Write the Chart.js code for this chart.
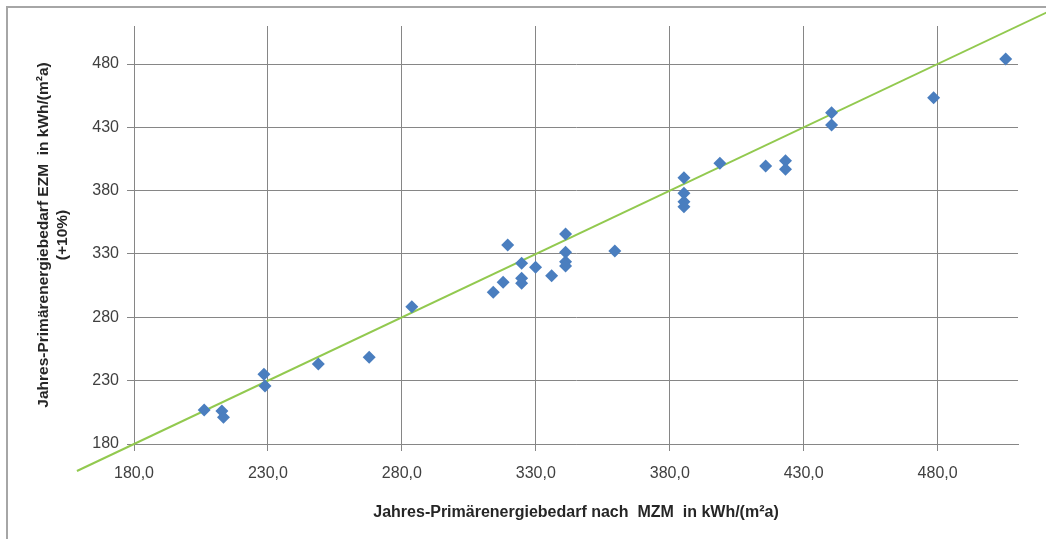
<!DOCTYPE html>
<html>
<head>
<meta charset="utf-8">
<script src="https://cdn.jsdelivr.net/npm/chart.js@4/dist/chart.umd.min.js"></script>
<style>
  html, body { margin: 0; padding: 0; background: #ffffff; }
  #wrap { width: 1046px; height: 539px; position: relative; }
</style>
</head>
<body>
<div id="wrap"><canvas id="c" width="1046" height="539"></canvas></div>
<script>
// Primary energy demand per building: MZM (x) against EZM +10% (y), kWh/(m²a)
const mzmValues = [206.2, 212.8, 213.4, 228.5, 228.9, 248.8, 267.8, 283.7, 314.1, 317.8,
                   319.5, 324.7, 324.7, 324.7, 329.9, 335.9, 341.1, 341.1, 341.1, 341.1,
                   359.5, 385.3, 385.3, 385.3, 385.3, 398.7, 415.8, 423.2, 423.2, 440.4,
                   440.4, 478.5, 505.4];
const ezmValues = [206.8, 206.1, 201.1, 235.0, 225.8, 243.2, 248.4, 288.4, 299.8, 307.7,
                   337.1, 322.7, 310.8, 306.9, 319.5, 312.9, 345.8, 331.3, 323.9, 320.5,
                   332.4, 390.2, 377.9, 371.3, 367.3, 401.6, 399.5, 403.7, 396.9, 441.5,
                   431.8, 453.4, 483.9];

// Reference line EZM = MZM, start and end values
const equalityLine = [158.7, 521];

// Axis ticks
const xTicks = [180, 230, 280, 330, 380, 430, 480];
const yTicks = [180, 230, 280, 330, 380, 430, 480];
const axisMin = 180;
const axisMax = 510;

const scatterPoints = mzmValues.map((x, i) => ({ x: x, y: ezmValues[i] }));
const linePoints = equalityLine.map(v => ({ x: v, y: v }));

const gridColor = '#868686';
const fontFamily = "'Liberation Sans', Arial, sans-serif";

// Outer chart frame (left and top edges)
const framePlugin = {
  id: 'frame',
  beforeDraw(chart) {
    const ctx = chart.ctx;
    ctx.save();
    ctx.fillStyle = '#ffffff';
    ctx.fillRect(0, 0, chart.width, chart.height);
    ctx.strokeStyle = '#a6a6a6';
    ctx.lineWidth = 2;
    ctx.beginPath();
    ctx.moveTo(7, chart.height + 5);
    ctx.lineTo(7, 7);
    ctx.lineTo(chart.width + 5, 7);
    ctx.stroke();
    ctx.restore();
  }
};

new Chart(document.getElementById('c'), {
  type: 'scatter',
  data: {
    datasets: [
      {
        type: 'line',
        label: 'EZM = MZM',
        data: linePoints,
        borderColor: '#92c94f',
        borderWidth: 2,
        pointRadius: 0,
        fill: false,
        clip: false,
        order: 2
      },
      {
        label: 'Gebäude',
        data: scatterPoints,
        pointStyle: 'rectRot',
        pointRadius: 6.5,
        pointHoverRadius: 6.5,
        backgroundColor: '#4a7ebf',
        borderColor: '#4a7ebf',
        borderWidth: 0,
        order: 1
      }
    ]
  },
  options: {
    responsive: false,
    animation: false,
    events: [],
    layout: { padding: { left: 0, right: 28, top: 26, bottom: 0 } },
    plugins: {
      legend: { display: false },
      tooltip: { enabled: false }
    },
    scales: {
      x: {
        type: 'linear',
        min: axisMin,
        max: axisMax,
        afterBuildTicks: s => { s.ticks = xTicks.map(v => ({ value: v })); },
        afterFit: s => { s.height = 95; },
        grid: { color: gridColor, lineWidth: 1, tickLength: 7, tickColor: gridColor },
        border: { display: true, color: gridColor, width: 1 },
        ticks: {
          color: '#404040',
          font: { family: fontFamily, size: 16 },
          padding: 13,
          maxRotation: 0,
          callback: v => v.toFixed(1).replace('.', ',')
        },
        title: {
          display: true,
          text: 'Jahres-Primärenergiebedarf nach  MZM  in kWh/(m²a)',
          color: '#262626',
          font: { family: fontFamily, size: 16, weight: 'bold' },
          padding: { top: 0, bottom: 17 }
        }
      },
      y: {
        type: 'linear',
        min: axisMin,
        max: axisMax,
        afterBuildTicks: s => { s.ticks = yTicks.map(v => ({ value: v })); },
        afterFit: s => { s.width = 134; },
        grid: { color: gridColor, lineWidth: 1, tickLength: 7, tickColor: gridColor },
        border: { display: true, color: gridColor, width: 1 },
        ticks: {
          color: '#404040',
          font: { family: fontFamily, size: 16 },
          padding: 8,
          callback: v => String(v)
        },
        title: {
          display: true,
          text: ['Jahres-Primärenergiebedarf EZM  in kWh/(m²a)', '(+10%)'],
          color: '#262626',
          font: { family: fontFamily, size: 15.5, weight: 'bold', lineHeight: 1.25 },
          padding: { top: 34, bottom: 0 }
        }
      }
    }
  },
  plugins: [framePlugin]
});
</script>
</body>
</html>
